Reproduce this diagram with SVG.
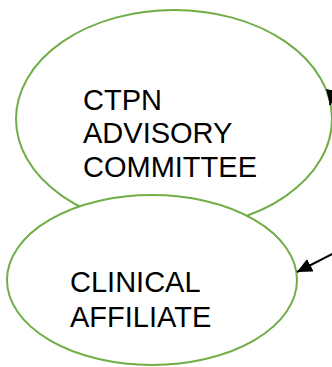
<svg xmlns="http://www.w3.org/2000/svg" width="332" height="367" viewBox="0 0 332 367">
<style>
.node{fill:#fff;stroke:#70ad47;stroke-width:2}
.lbl{font-family:"Liberation Sans",Arial,sans-serif;font-size:29px;fill:#000}
.conn{stroke:#000;stroke-width:2;fill:none}
</style>
<defs>
<marker id="ah" markerWidth="15" markerHeight="14" refX="15" refY="7" orient="auto" markerUnits="userSpaceOnUse" viewBox="0 0 15 14">
<path d="M0,0 L15,7 L0,14 z" fill="#000"/>
</marker>
</defs>
<rect width="332" height="367" fill="#fff"/>
<g id="ctpn">
<ellipse class="node" cx="174" cy="119" rx="158" ry="109"/>
<text class="lbl"><tspan x="83" y="110">CTPN</tspan><tspan x="83" y="143">ADVISORY</tspan><tspan x="83" y="177">COMMITTEE</tspan></text>
</g>
<g id="clinical">
<ellipse class="node" cx="152" cy="280" rx="145" ry="85"/>
<text class="lbl"><tspan x="70" y="292">CLINICAL</tspan><tspan x="70" y="327">AFFILIATE</tspan></text>
</g>
<g id="connectors">
<path class="conn" d="M342,45 L330,105" marker-end="url(#ah)"/>
<path class="conn" d="M336,252 L297,272" marker-end="url(#ah)"/>
</g>
</svg>
